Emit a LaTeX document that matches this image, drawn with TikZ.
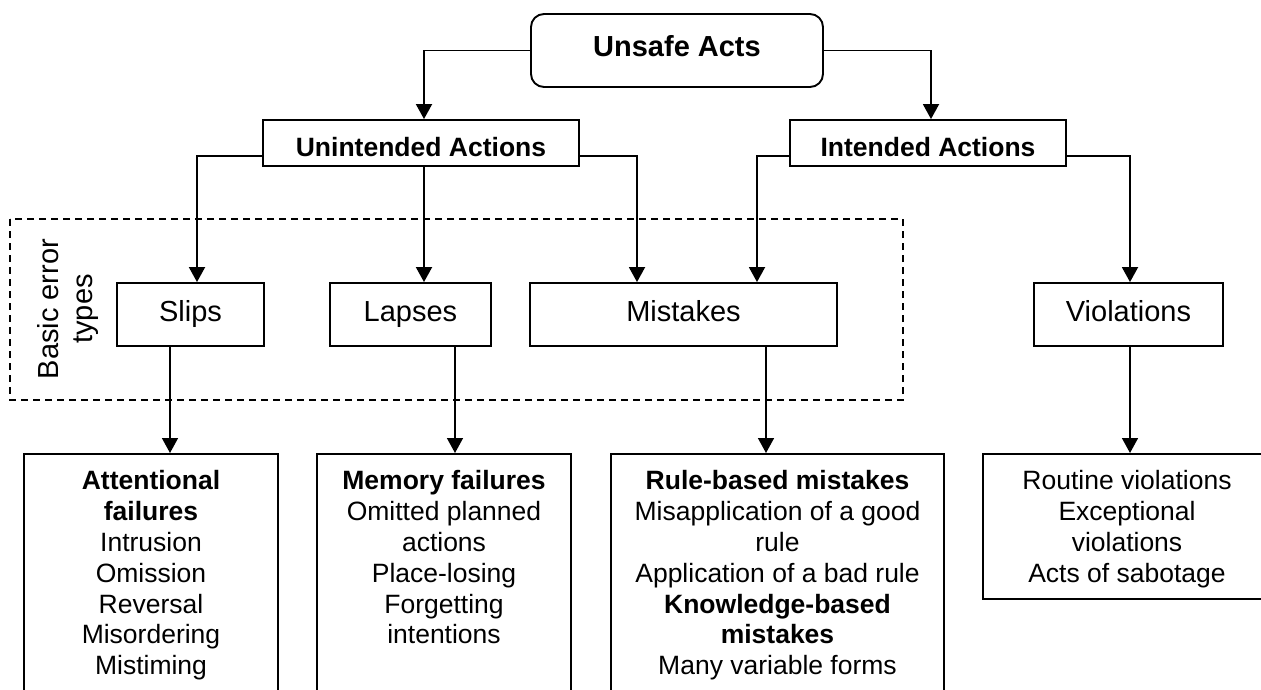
\documentclass[tikz,border=0pt]{standalone}
\usepackage{fontspec}
\setmainfont{Liberation Sans}
\usetikzlibrary{arrows.meta}

\tikzset{
  conn/.style={line width=1.9pt, -{Triangle[length=15pt,width=16pt]}},
  connlow/.style={line width=1.5pt, -{Triangle[length=15pt,width=16pt]}},
  topbox/.style={draw, line width=1.9pt, rounded corners=13pt, inner sep=0pt,
    minimum width=292pt, minimum height=73pt, font=\fontsize{29}{34}\selectfont\bfseries,
    text height=21pt, text depth=10pt},
  midbox/.style={draw, line width=1.9pt, inner sep=0pt, minimum height=46pt,
    font=\fontsize{26.5}{31}\selectfont\bfseries, text height=26pt, text depth=0pt},
  typebox/.style={draw, line width=1.9pt, inner sep=0pt, minimum height=63pt,
    font=\fontsize{29}{34}\selectfont, text height=21pt, text depth=7pt},
  lowbox/.style={draw, line width=1.7pt, inner sep=0pt, anchor=north},
  lowtext/.style={anchor=north, inner sep=0pt, align=center,
    font=\fontsize{26.5}{30.8}\selectfont},
  groupframe/.style={line width=1.5pt, dash pattern=on 7pt off 5pt}
}

\begin{document}
\begin{tikzpicture}[x=1pt, y=-1pt]
  \useasboundingbox (0,0) rectangle (1261,689);
  \clip (0,0) rectangle (1261,689);

  % columns and rows used by the connectors
  \coordinate (cUA) at (424,0);
  \coordinate (cIA) at (931,0);
  \coordinate (cSl) at (197,0);
  \coordinate (cMi1) at (637,0);
  \coordinate (cMi2) at (757,0);
  \coordinate (cVi) at (1130,0);
  \coordinate (dSl) at (170,0);
  \coordinate (dLa) at (455,0);
  \coordinate (dMi) at (766,0);
  \coordinate (dVi) at (1130,0);
  \coordinate (hUA) at (0,156);

  % group of basic error types
  \draw[groupframe] (10,219) rectangle (903,400);
  \node[rotate=90, align=center, inner sep=0pt, font=\fontsize{29}{34}\selectfont]
    (basic) at (68,309) {Basic error\\types};

  % top level
  \node[topbox] (unsafe) at (677,50.5) {Unsafe Acts};

  % second level
  \node[midbox, minimum width=316pt] (una) at (421,143) {Unintended Actions};
  \node[midbox, minimum width=276pt] (ina) at (928,143) {Intended Actions};

  % error types
  \node[typebox, minimum width=147pt] (slips) at (190.5,314.5) {Slips};
  \node[typebox, minimum width=161pt] (lapses) at (410.5,314.5) {Lapses};
  \node[typebox, minimum width=307pt] (mist) at (683.5,314.5) {Mistakes};
  \node[typebox, minimum width=189pt] (viol) at (1128.5,314.5) {Violations};

  % detail boxes
  \node[lowbox, minimum width=254pt, minimum height=300pt] (att) at (151,453) {};
  \node[lowbox, minimum width=254pt, minimum height=300pt] (mem) at (444,453) {};
  \node[lowbox, minimum width=333pt, minimum height=300pt] (rul) at (777.5,453) {};
  \node[lowbox, minimum width=288pt, minimum height=145pt] (vio) at (1127,453) {};

  \node[lowtext] (attT) at (151,470.5) {\textbf{Attentional}\\\textbf{failures}\\Intrusion\\Omission\\Reversal\\Misordering\\Mistiming};
  \node[lowtext] (memT) at (444,470.5) {\textbf{Memory failures}\\Omitted planned\\actions\\Place-losing\\Forgetting\\intentions};
  \node[lowtext] (rulT) at (777.5,470.5) {\textbf{Rule-based mistakes}\\Misapplication of a good\\rule\\Application of a bad rule\\\textbf{Knowledge-based}\\\textbf{mistakes}\\Many variable forms};
  \node[lowtext] (vioT) at (1127,470.5) {Routine violations\\Exceptional\\violations\\Acts of sabotage};

  % connectors
  \draw[conn] (unsafe.west) -| (una.north -| cUA);
  \draw[conn] (unsafe.east) -| (ina.north -| cIA);

  \draw[conn] (una.west |- hUA) -| (slips.north -| cSl);
  \draw[conn] (una.south -| cUA) -- (lapses.north -| cUA);
  \draw[conn] (una.east |- hUA) -| (mist.north -| cMi1);
  \draw[conn] (ina.west |- hUA) -| (mist.north -| cMi2);
  \draw[conn] (ina.east |- hUA) -| (viol.north -| cVi);

  \draw[connlow] (slips.south -| dSl) -- (att.north -| dSl);
  \draw[connlow] (lapses.south -| dLa) -- (mem.north -| dLa);
  \draw[connlow] (mist.south -| dMi) -- (rul.north -| dMi);
  \draw[connlow] (viol.south -| dVi) -- (vio.north -| dVi);
\end{tikzpicture}
\end{document}
